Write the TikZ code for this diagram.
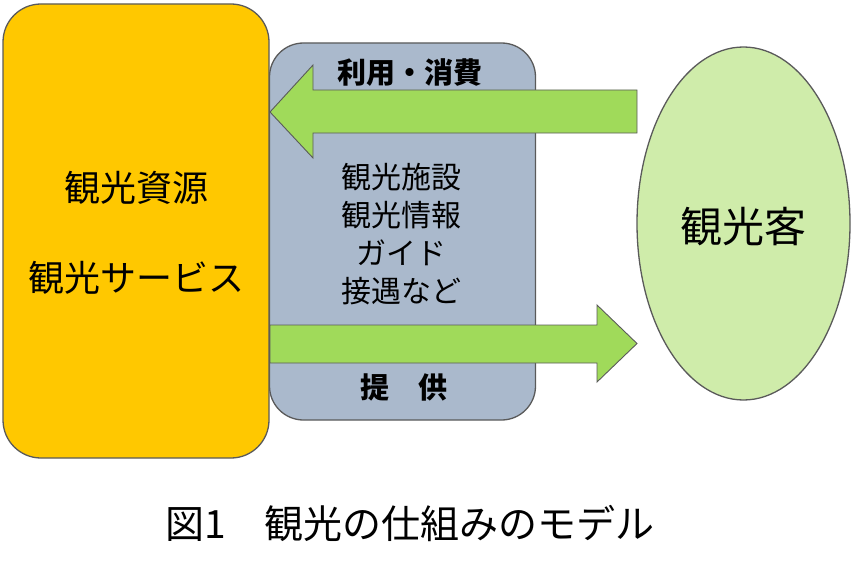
\documentclass[tikz,border=0pt]{standalone}
\usepackage{fontspec}
\setmainfont{Noto Sans CJK JP}
\usetikzlibrary{shapes.geometric}
\definecolor{resyellow}{RGB}{255,200,0}
\definecolor{resgray}{RGB}{170,185,204}
\definecolor{resgreen}{RGB}{160,218,90}
\definecolor{resellipse}{RGB}{207,236,170}
\definecolor{resedge}{RGB}{90,90,90}
\tikzset{
  boxstyle/.style={draw=resedge, line width=1.3pt, rounded corners=38pt, inner sep=0pt},
  arrowstyle/.style={draw=resedge, line width=0.9pt, fill=resgreen, line join=miter},
  labelbold/.style={font=\fontsize{29}{34}\selectfont\bfseries, inner sep=0pt},
}
\begin{document}
\begin{tikzpicture}[x=1pt,y=-1pt]
\useasboundingbox (0,0) rectangle (853,575);
% gray middle box
\node[boxstyle, fill=resgray, rounded corners=34pt, minimum width=266pt, minimum height=377pt] (mid) at (402.5,231.5) {};
% yellow resource box
\node[boxstyle, fill=resyellow, minimum width=266pt, minimum height=454pt] (res) at (136,231) {};
% tourist ellipse
\node[ellipse, draw=resedge, line width=1.3pt, fill=resellipse, minimum width=213pt, minimum height=353pt, inner sep=0pt] (tour) at (743.5,223.5) {};
% arrows
\coordinate (ltip) at (270,112);
\coordinate (rtip) at (637,343.5);
\draw[arrowstyle] (ltip) -- ++(43,-47) -- ++(0,25) -- (637,90) -- (637,133) -- (313,133) -- (313,158) -- cycle;
\draw[arrowstyle] (rtip) -- (597,382) -- (597,363) -- (270,363) -- (270,325) -- (597,325) -- (597,305) -- cycle;
% texts
\node[font=\fontsize{36}{40}\selectfont, inner sep=0pt] (t1) at (136,188) {観光資源};
\node[font=\fontsize{36}{40}\selectfont, inner sep=0pt] (t2) at (136,278) {観光サービス};
\node[labelbold] (use) at (410,73) {利用・消費};
\node[labelbold] (prov) at (404,387) {提　供};
\node[font=\fontsize{30}{38}\selectfont, align=center, inner sep=0pt] (items) at (401,234) {観光施設\\観光情報\\ガイド\\接遇など};
\node[font=\fontsize{42}{46}\selectfont, inner sep=0pt] (guest) at (743.5,227) {観光客};
\node[font=\fontsize{39}{43}\selectfont, inner sep=0pt] (cap) at (410,523) {図1　観光の仕組みのモデル};
\end{tikzpicture}
\end{document}
